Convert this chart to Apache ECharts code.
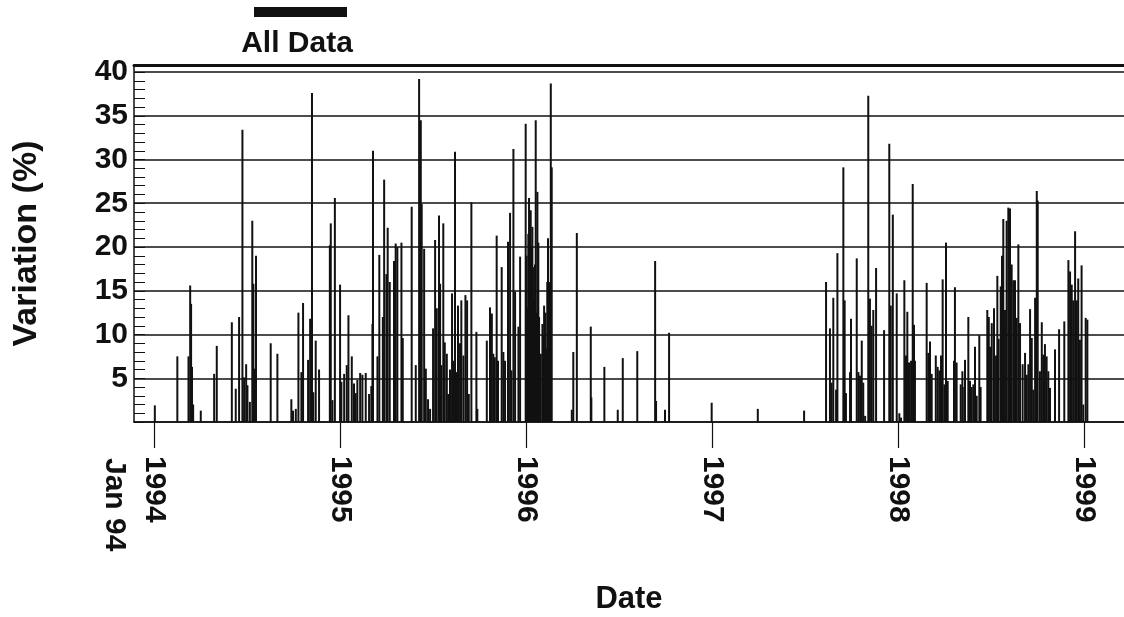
<!DOCTYPE html>
<html>
<head>
<meta charset="utf-8">
<script src="https://cdn.jsdelivr.net/npm/echarts@6/dist/echarts.min.js"></script>
<style>
html, body { margin: 0; background: #fff; }
#chart { width: 1124px; height: 617px; }
</style>
</head>
<body>
<div id="chart"></div>
<script>
// dates as decimal years (1994.5 = early July 1994)
var dates = [
    1994.004, 1994.125, 1994.185, 1994.194, 1994.199, 1994.204, 1994.210, 1994.251, 1994.323, 1994.337,
    1994.418, 1994.439, 1994.457, 1994.475, 1994.484, 1994.495, 1994.502, 1994.515, 1994.528, 1994.534,
    1994.541, 1994.548, 1994.627, 1994.663, 1994.738, 1994.747, 1994.762, 1994.776, 1994.792, 1994.801,
    1994.828, 1994.839, 1994.849, 1994.856, 1994.869, 1994.887, 1994.945, 1994.950, 1994.959, 1994.972,
    1995.000, 1995.007, 1995.022, 1995.036, 1995.045, 1995.063, 1995.075, 1995.084, 1995.093, 1995.108,
    1995.120, 1995.138, 1995.156, 1995.168, 1995.174, 1995.177, 1995.201, 1995.211, 1995.230, 1995.237,
    1995.249, 1995.256, 1995.267, 1995.290, 1995.299, 1995.308, 1995.330, 1995.337, 1995.385, 1995.407,
    1995.425, 1995.434, 1995.439, 1995.452, 1995.461, 1995.473, 1995.484, 1995.500, 1995.511, 1995.520,
    1995.532, 1995.538, 1995.545, 1995.555, 1995.563, 1995.574, 1995.582, 1995.591, 1995.602, 1995.609,
    1995.618, 1995.625, 1995.634, 1995.645, 1995.652, 1995.663, 1995.674, 1995.683, 1995.692, 1995.706,
    1995.733, 1995.738, 1995.789, 1995.806, 1995.816, 1995.824, 1995.832, 1995.842, 1995.849, 1995.869,
    1995.878, 1995.887, 1995.903, 1995.914, 1995.921, 1995.932, 1995.941, 1995.959, 1995.968, 1995.998,
    1996.003, 1996.007, 1996.012, 1996.016, 1996.021, 1996.025, 1996.030, 1996.034, 1996.039, 1996.043,
    1996.048, 1996.052, 1996.057, 1996.061, 1996.066, 1996.070, 1996.079, 1996.088, 1996.093, 1996.097,
    1996.104, 1996.109, 1996.114, 1996.118, 1996.125, 1996.129, 1996.133, 1996.138, 1996.246, 1996.254,
    1996.273, 1996.348, 1996.351, 1996.421, 1996.493, 1996.520, 1996.598, 1996.694, 1996.699, 1996.747,
    1996.769, 1996.998, 1997.246, 1997.495, 1997.613, 1997.634, 1997.643, 1997.652, 1997.667, 1997.674,
    1997.706, 1997.713, 1997.720, 1997.742, 1997.747, 1997.778, 1997.787, 1997.796, 1997.805, 1997.813,
    1997.823, 1997.840, 1997.849, 1997.858, 1997.867, 1997.882, 1997.925, 1997.953, 1997.961, 1997.972,
    1997.993, 1998.007, 1998.016, 1998.034, 1998.043, 1998.050, 1998.059, 1998.070, 1998.079, 1998.086,
    1998.091, 1998.154, 1998.163, 1998.172, 1998.181, 1998.203, 1998.213, 1998.222, 1998.231, 1998.240,
    1998.249, 1998.258, 1998.267, 1998.301, 1998.306, 1998.315, 1998.337, 1998.346, 1998.356, 1998.360,
    1998.378, 1998.387, 1998.396, 1998.405, 1998.414, 1998.423, 1998.437, 1998.444, 1998.480, 1998.488,
    1998.495, 1998.504, 1998.516, 1998.527, 1998.534, 1998.541, 1998.552, 1998.559, 1998.566, 1998.575,
    1998.584, 1998.593, 1998.602, 1998.611, 1998.620, 1998.629, 1998.638, 1998.647, 1998.656, 1998.670,
    1998.683, 1998.692, 1998.701, 1998.710, 1998.719, 1998.727, 1998.737, 1998.746, 1998.751, 1998.763,
    1998.773, 1998.781, 1998.790, 1998.799, 1998.808, 1998.817, 1998.844, 1998.866, 1998.894, 1998.916,
    1998.925, 1998.934, 1998.942, 1998.952, 1998.961, 1998.969, 1998.978, 1998.987, 1998.996, 1999.009, 1999.018
];
// variation (%)
var variation = [
    1.9, 7.5, 7.5, 15.6, 13.5, 6.3, 2.0, 1.3, 5.5, 8.7,
    11.4, 3.8, 12.0, 33.4, 5.1, 6.6, 4.2, 2.3, 23.0, 15.8,
    6.1, 19.0, 9.0, 7.8, 2.6, 1.3, 1.5, 12.5, 5.7, 13.6,
    7.1, 11.8, 37.6, 3.4, 9.3, 6.0, 20.2, 22.7, 2.5, 25.6,
    15.7, 4.6, 5.5, 6.5, 12.2, 7.5, 4.4, 3.3, 4.8, 5.6,
    5.4, 5.6, 3.2, 4.1, 11.2, 31.0, 7.5, 19.1, 12.0, 27.7,
    16.9, 22.2, 16.0, 18.4, 20.4, 20.0, 20.5, 9.6, 24.6, 6.5,
    39.2, 34.5, 24.9, 19.8, 6.1, 2.6, 1.5, 10.7, 20.8, 13.0,
    23.6, 15.8, 6.5, 22.7, 9.1, 7.8, 3.2, 6.0, 14.7, 7.0,
    30.9, 5.7, 13.3, 9.0, 13.9, 7.6, 14.5, 13.9, 3.2, 25.1,
    10.3, 1.5, 9.3, 13.1, 12.4, 7.8, 7.4, 21.3, 7.0, 17.7,
    8.0, 7.0, 20.6, 23.9, 5.9, 31.2, 14.9, 10.9, 18.9, 34.1,
    19.0, 13.1, 21.5, 25.6, 16.0, 24.2, 20.0, 22.3, 14.0, 17.7,
    18.0, 34.5, 12.5, 26.3, 20.5, 12.0, 7.8, 11.2, 10.0, 13.3,
    12.5, 8.4, 16.0, 21.0, 15.8, 16.0, 38.7, 29.1, 1.4, 8.0,
    21.6, 10.9, 2.8, 6.3, 1.4, 7.3, 8.1, 18.4, 2.4, 1.4,
    10.2, 2.2, 1.5, 1.3, 16.0, 10.7, 4.5, 14.2, 3.7, 19.3,
    29.1, 13.9, 3.3, 5.7, 11.8, 18.7, 5.7, 5.3, 9.3, 4.5,
    0.7, 37.3, 14.1, 11.0, 12.8, 17.6, 10.5, 31.8, 13.3, 23.7,
    14.7, 1.0, 0.5, 16.2, 7.6, 12.6, 6.8, 7.0, 27.2, 11.1,
    7.0, 15.9, 7.9, 9.2, 5.5, 7.6, 6.3, 5.9, 7.6, 16.3,
    4.3, 20.5, 4.7, 7.0, 15.4, 6.8, 4.3, 5.8, 4.0, 7.1,
    12.0, 4.7, 4.0, 4.3, 8.6, 3.0, 9.9, 4.0, 12.8, 12.0,
    8.6, 11.3, 13.0, 7.6, 16.7, 9.5, 15.5, 19.0, 23.2, 12.8,
    23.0, 24.5, 24.4, 18.0, 16.2, 16.2, 11.9, 20.3, 11.3, 6.6,
    7.9, 5.4, 6.6, 12.9, 9.6, 3.7, 14.2, 26.4, 25.3, 5.8,
    11.4, 7.7, 8.9, 7.5, 5.8, 3.9, 8.3, 10.6, 11.5, 18.5,
    17.2, 15.7, 13.9, 21.8, 13.9, 16.4, 9.4, 17.9, 2.0, 11.9, 11.7
];
var yearTicks = [1994, 1995, 1996, 1997, 1998, 1999];
var startLabel = 'Jan 94';
var seriesName = 'All Data';

var font = '"Liberation Sans", Arial, sans-serif';
var ink = '#111';
var labelStyle = {fontFamily: font, fontWeight: 'bold', fontSize: 30, color: ink};

var chart = echarts.init(document.getElementById('chart'));
chart.setOption({
    animation: false,
    backgroundColor: '#fff',
    grid: {
        left: 134,
        right: 0,
        top: 65,
        bottom: 195,
        containLabel: false,
        outerBoundsMode: 'none'
    },
    xAxis: [{
        type: 'value',
        min: 1993.892,
        max: 1999.215,
        name: 'Date',
        nameLocation: 'middle',
        nameGap: 162,
        nameMoveOverlap: false,
        nameTextStyle: Object.assign({}, labelStyle, {fontSize: 31}),
        axisLine: {lineStyle: {color: ink, width: 1.5}},
        axisTick: {
            customValues: yearTicks,
            length: 26,
            lineStyle: {color: ink, width: 1.2}
        },
        axisLabel: Object.assign({
            customValues: yearTicks,
            rotate: -90,
            margin: 34,
            formatter(v) {
                return String(Math.round(v));
            }
        }, labelStyle),
        splitLine: {show: false}
    }, {
        type: 'value',
        position: 'top',
        min: 1993.892,
        max: 1999.215,
        axisLine: {lineStyle: {color: ink, width: 3}},
        axisTick: {show: false},
        axisLabel: {show: false},
        splitLine: {show: false}
    }],
    yAxis: {
        type: 'value',
        min: 0,
        max: 40.8,
        interval: 5,
        name: 'Variation (%)',
        nameLocation: 'middle',
        nameGap: 90,
        nameMoveOverlap: false,
        nameTextStyle: Object.assign({}, labelStyle, {fontSize: 34}),
        axisLine: {show: true, lineStyle: {color: ink, width: 1.5}},
        axisTick: {show: true, inside: true, length: 11, lineStyle: {color: ink, width: 1}},
        minorTick: {show: true, splitNumber: 5, length: 11, lineStyle: {color: ink, width: 1}},
        splitLine: {show: true, lineStyle: {color: ink, width: 1.6}},
        axisLabel: Object.assign({
            margin: 6,
            formatter(v) {
                return (v > 0 && v % 5 === 0) ? String(v) : '';
            }
        }, labelStyle)
    },
    graphic: [{
        type: 'rect',
        left: 254,
        top: 7,
        shape: {width: 93, height: 10},
        style: {fill: ink}
    }, {
        type: 'text',
        x: 297,
        y: 44,
        style: {
            text: seriesName,
            font: 'bold 30px ' + font,
            fill: ink,
            align: 'center',
            verticalAlign: 'middle'
        }
    }, {
        type: 'text',
        x: 114,
        y: 458,
        rotation: -Math.PI / 2,
        style: {
            text: startLabel,
            font: 'bold 30px ' + font,
            fill: ink,
            align: 'left',
            verticalAlign: 'middle'
        }
    }],
    series: [{
        name: seriesName,
        type: 'bar',
        barWidth: 2,
        itemStyle: {color: ink},
        data: dates.map((d, i) => [d, variation[i]])
    }]
});
</script>
</body>
</html>
